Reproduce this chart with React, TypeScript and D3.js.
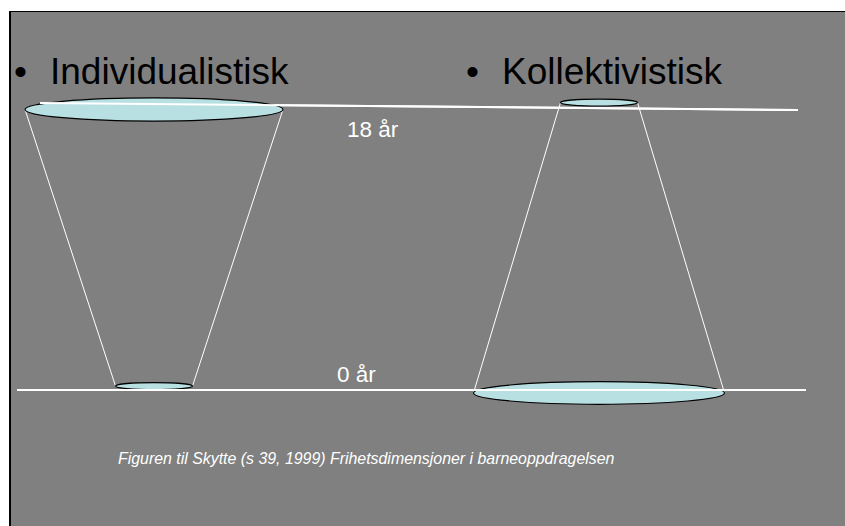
import React, { useEffect, useRef } from "react"
import * as d3 from "d3"

// the two cultures and the relative room for freedom at age 0 and at 18
const groups = ["Individualistisk", "Kollektivistisk"]
const ages = [0, 18]
const ageLabels = ["0 år", "18 år"]
const freedomAt0 = [1.0, 3.26]
const freedomAt18 = [3.35, 1.0]
const caption = "Figuren til Skytte (s 39, 1999) Frihetsdimensjoner i barneoppdragelsen"

const W = 845
const H = 526

export default function App() {
  const ref = useRef<SVGSVGElement>(null)

  useEffect(() => {
    const svg = d3.select(ref.current)
    svg.selectAll("*").remove()

    const font = "'Liberation Sans', Arial, sans-serif"

    // slide background
    svg.append("rect").attr("x", 0).attr("y", 0).attr("width", W).attr("height", H).attr("fill", "#fff")
    svg.append("rect").attr("x", 10).attr("y", 11).attr("width", W).attr("height", H).attr("fill", "#808080")
    svg.append("line").attr("x1", 10).attr("x2", W).attr("y1", 11.5).attr("y2", 11.5).attr("stroke", "#000").attr("stroke-width", 1)
    svg.append("line").attr("x1", 10).attr("x2", 10).attr("y1", 11).attr("y2", H).attr("stroke", "#000").attr("stroke-width", 2)

    const x = d3.scalePoint().domain(groups).range([154, 599])
    const y = d3.scaleLinear().domain([0, 18]).range([390, 106.5])
    const r = d3.scaleLinear().domain([0, 1]).range([0, 38.5])

    const drawAgeLines = () => {
      svg.append("line")
        .attr("x1", 40).attr("x2", 798)
        .attr("y1", y(18) - 3.5).attr("y2", y(18) + 3.5)
        .attr("stroke", "#fff").attr("stroke-width", 2)
      svg.append("line")
        .attr("x1", 17).attr("x2", 806)
        .attr("y1", y(0)).attr("y2", y(0))
        .attr("stroke", "#fff").attr("stroke-width", 2)
    }
    drawAgeLines()

    svg.selectAll("text.age")
      .data(ages)
      .enter()
      .append("text")
      .attr("class", "age")
      .attr("x", (d) => (d === 18 ? 347 : 337))
      .attr("y", (d) => (d === 18 ? y(d) + 30 : y(d) - 8))
      .attr("fill", "#fff")
      .attr("font-family", font)
      .attr("font-size", 22.5)
      .text((d, i) => ageLabels[i])

    const ellipse = (cx: number, lineY: number, v: number) => {
      const rx = r(v)
      const ry = rx * 0.09
      const cy = v > 2 ? lineY + 3 : lineY - ry - 0.5
      return { cx, cy, rx, ry }
    }

    groups.forEach((g, i) => {
      const cx = x(g) as number
      const top = ellipse(cx, y(18), freedomAt18[i])
      const bot = ellipse(cx, y(0), freedomAt0[i])

      // funnel sides
      ;[-1, 1].forEach((s) => {
        svg.append("line")
          .attr("x1", top.cx + s * top.rx).attr("y1", top.cy)
          .attr("x2", bot.cx + s * bot.rx).attr("y2", bot.cy)
          .attr("stroke", "#fff").attr("stroke-width", 1)
      })

      ;[top, bot].forEach((e) => {
        svg.append("ellipse")
          .attr("cx", e.cx).attr("cy", e.cy)
          .attr("rx", e.rx).attr("ry", e.ry)
          .attr("fill", "#b8dfe2")
          .attr("stroke", "#000")
          .attr("stroke-width", 1.2)
      })
    })

    // lines pass over the discs as in the slide
    drawAgeLines()

    // titles
    const titleX = [50, 502]
    groups.forEach((g, i) => {
      svg.append("text")
        .attr("x", titleX[i] - 36).attr("y", 83.5)
        .attr("font-family", font).attr("font-size", 37).attr("fill", "#000")
        .text("•")
      svg.append("text")
        .attr("x", titleX[i]).attr("y", 83.5)
        .attr("font-family", font).attr("font-size", 37).attr("fill", "#000")
        .text(g)
    })

    svg.append("text")
      .attr("x", 118).attr("y", 463.5)
      .attr("font-family", font).attr("font-size", 15.9)
      .attr("font-style", "italic").attr("fill", "#fff")
      .text(caption)
  }, [])

  return (
    <svg
      ref={ref}
      width={W}
      height={H}
      style={{ position: "absolute", left: 0, top: 0, display: "block" }}
    />
  )
}
